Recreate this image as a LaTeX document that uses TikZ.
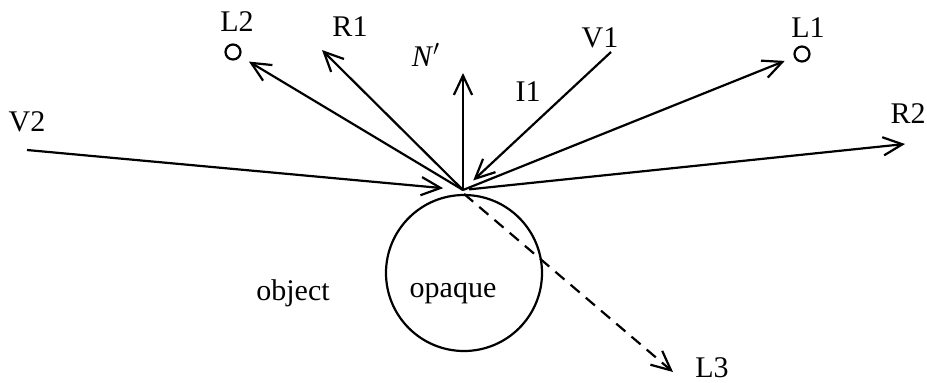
\documentclass[tikz,border=0pt]{standalone}
\usepackage{fontspec}
\setmainfont{Liberation Serif}
\usetikzlibrary{arrows.meta}
\tikzset{
  ray/.style   = {-{Straight Barb[length=3.4mm,width=3.2mm]}, line width=1.1pt},
  light/.style = {circle, draw, line width=1.1pt, minimum size=7.5pt, inner sep=0pt},
  lbl/.style   = {font=\fontsize{15}{18}\selectfont, inner sep=1pt}
}
\begin{document}
\begin{tikzpicture}[x=0.5pt,y=-0.5pt]
  \useasboundingbox (0,0) rectangle (927,382);
  % --- the object and the point that is hit
  \node[circle, draw, line width=1.1pt, minimum size=78pt, inner sep=0pt] (obj) at (464,273) {};
  \coordinate (P) at (463,190);
  % --- free ends of the rays
  \coordinate (V2) at (27,150);
  \coordinate (V1) at (611,52);
  \coordinate (R1) at (322,50);
  \coordinate (R2) at (905,144);
  \coordinate (N)  at (463,73);
  \coordinate (L3) at (673,372);
  \node[light] (L2) at (233,52) {};
  \node[light] (L1) at (802,54) {};
  % --- rays
  \draw[ray, shorten >=10pt] (V2) -- (P);
  \draw[ray, shorten >=7pt] (V1) -- (P);
  \draw[ray] (P) -- (R1);
  \draw[ray] (P) -- (N);
  \draw[ray, shorten >=5pt] (P) -- (L2);
  \draw[ray, shorten >=5pt] (P) -- (L1);
  \draw[ray, shorten <=3pt] (P) -- (R2);
  \draw[ray, dash pattern=on 6pt off 4pt] (obj.north) -- (L3);
  % --- labels
  \node[lbl] (tL2) at (237,22) {L2};
  \node[lbl] (tR1) at (350,27) {R1};
  \node[lbl] (tN)  at (426,55) {\textit{N}$'$};
  \node[lbl] (tV1) at (600,38) {V1};
  \node[lbl] (tI1) at (528,92) {I1};
  \node[lbl] (tL1) at (808,28) {L1};
  \node[lbl] (tV2) at (27,122) {V2};
  \node[lbl] (tR2) at (908,114) {R2};
  \node[lbl] (tL3) at (712,368) {L3};
  \node[lbl] (tobject) at (293,293) {object};
  \node[lbl] (topaque) at (453,293) {opaque};
\end{tikzpicture}
\end{document}
